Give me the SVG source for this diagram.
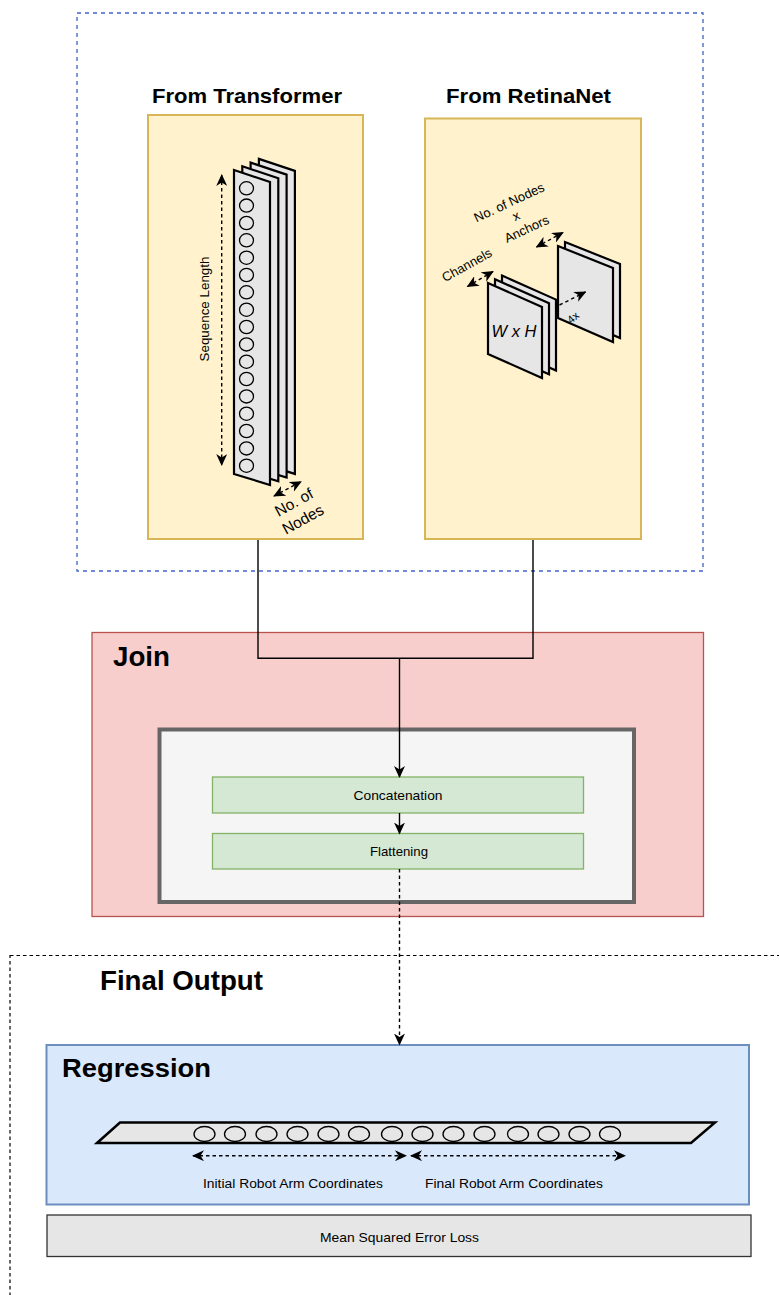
<svg xmlns="http://www.w3.org/2000/svg" width="779" height="1295" viewBox="0 0 779 1295">
<defs>
<style>
.t{font-family:"Liberation Sans",Arial,sans-serif;fill:#000}
.title{font-weight:bold}
.sheet{fill:#e6e6e6;stroke:#000;stroke-width:2.2;stroke-linejoin:miter}
.node{fill:none;stroke:#000;stroke-width:1.3}
.dash{fill:none;stroke:#000;stroke-width:1.4;stroke-dasharray:3.5 3}
.solid{fill:none;stroke:#000;stroke-width:1.4}
</style>
<marker id="ah" viewBox="0 0 12 11" refX="11" refY="5.5" markerWidth="12" markerHeight="11" markerUnits="userSpaceOnUse" orient="auto-start-reverse">
<path d="M0,0 L12,5.5 L0,11 L3.5,5.5 z" fill="#000"/>
</marker>
<polygon id="tsheet" points="234,170 270,182 270,485 234,474"/>
<polygon id="rsheet1" points="488,283 542,307 542,378 488,354"/>
<polygon id="rsheet2" points="558,246 613,268 613,342 558,318"/>
</defs>
<rect width="779" height="1295" fill="#ffffff"/>

<g id="inputs-frame">
<rect x="77" y="13" width="626" height="558" fill="none" stroke="#4062cc" stroke-width="1.3" stroke-dasharray="4 4"/>
</g>

<g id="transformer">
<rect x="148" y="115" width="215" height="424" fill="#fff2cc" stroke="#d6b656" stroke-width="2"/>
<text class="t title" x="247" y="103" font-size="20.5" text-anchor="middle" textLength="190" lengthAdjust="spacingAndGlyphs">From Transformer</text>
<use href="#tsheet" class="sheet" transform="translate(24.9,-11.1)"/>
<use href="#tsheet" class="sheet" transform="translate(16.6,-7.4)"/>
<use href="#tsheet" class="sheet" transform="translate(8.3,-3.7)"/>
<use href="#tsheet" class="sheet"/>
<g class="node">
<ellipse cx="246.5" cy="188.3" rx="7" ry="6.6"/>
<ellipse cx="246.5" cy="205.6" rx="7" ry="6.6"/>
<ellipse cx="246.5" cy="223" rx="7" ry="6.6"/>
<ellipse cx="246.5" cy="240.3" rx="7" ry="6.6"/>
<ellipse cx="246.5" cy="257.7" rx="7" ry="6.6"/>
<ellipse cx="246.5" cy="275" rx="7" ry="6.6"/>
<ellipse cx="246.5" cy="292.3" rx="7" ry="6.6"/>
<ellipse cx="246.5" cy="309.7" rx="7" ry="6.6"/>
<ellipse cx="246.5" cy="327" rx="7" ry="6.6"/>
<ellipse cx="246.5" cy="344.4" rx="7" ry="6.6"/>
<ellipse cx="246.5" cy="361.7" rx="7" ry="6.6"/>
<ellipse cx="246.5" cy="379" rx="7" ry="6.6"/>
<ellipse cx="246.5" cy="396.4" rx="7" ry="6.6"/>
<ellipse cx="246.5" cy="413.7" rx="7" ry="6.6"/>
<ellipse cx="246.5" cy="431" rx="7" ry="6.6"/>
<ellipse cx="246.5" cy="448.4" rx="7" ry="6.6"/>
<ellipse cx="246.5" cy="465.7" rx="7" ry="6.6"/>
</g>
<line class="dash" x1="221.7" y1="175" x2="221.7" y2="465" marker-start="url(#ah)" marker-end="url(#ah)"/>
<text class="t" x="0" y="0" font-size="12.5" text-anchor="middle" textLength="105" lengthAdjust="spacingAndGlyphs" transform="translate(208.5,309) rotate(-90)">Sequence Length</text>
<line class="dash" x1="274" y1="496" x2="301" y2="481.7" marker-start="url(#ah)" marker-end="url(#ah)"/>
<text class="t" font-size="15.5" text-anchor="middle" transform="translate(296.5,507) rotate(-29)">No. of</text>
<text class="t" font-size="15.5" text-anchor="middle" transform="translate(305.5,524) rotate(-29)">Nodes</text>
</g>

<g id="retinanet">
<rect x="425" y="118.5" width="216" height="420.5" fill="#fff2cc" stroke="#d6b656" stroke-width="2"/>
<text class="t title" x="528.5" y="103" font-size="20.5" text-anchor="middle" textLength="165" lengthAdjust="spacingAndGlyphs">From RetinaNet</text>
<use href="#rsheet1" class="sheet" transform="translate(14,-7.4)"/>
<use href="#rsheet1" class="sheet" transform="translate(7,-3.7)"/>
<use href="#rsheet1" class="sheet"/>
<use href="#rsheet2" class="sheet" transform="translate(7,-4)"/>
<use href="#rsheet2" class="sheet"/>
<text class="t" x="514" y="337" font-size="16.5" font-style="italic" text-anchor="middle">W x H</text>
<text class="t" font-size="11" text-anchor="middle" transform="translate(575.5,320.5) rotate(-40)">4x</text>
<line class="dash" x1="559.5" y1="305" x2="585.5" y2="292" marker-end="url(#ah)"/>
<line class="dash" x1="467.5" y1="286.5" x2="493" y2="271.5" marker-start="url(#ah)" marker-end="url(#ah)"/>
<line class="dash" x1="536.5" y1="247" x2="563" y2="232.5" marker-start="url(#ah)" marker-end="url(#ah)"/>
<text class="t" font-size="13" text-anchor="middle" transform="translate(469,269) rotate(-29)">Channels</text>
<text class="t" font-size="13" text-anchor="middle" transform="translate(511,206.5) rotate(-25)">No. of Nodes</text>
<text class="t" font-size="13" text-anchor="middle" transform="translate(518,220) rotate(-25)">x</text>
<text class="t" font-size="13" text-anchor="middle" transform="translate(528.5,233) rotate(-25)">Anchors</text>
</g>

<g id="join">
<rect x="92" y="632.5" width="611.5" height="284" fill="#f8cecc" stroke="#b85450" stroke-width="1.3"/>
<text class="t title" x="113" y="665.5" font-size="27" textLength="57" lengthAdjust="spacingAndGlyphs">Join</text>
</g>
<g id="join-inner">
<rect x="159.5" y="729.5" width="474.5" height="172.5" fill="#f5f5f5" stroke="#666666" stroke-width="4"/>
</g>
<g id="concatenation">
<rect x="212.5" y="777" width="371" height="36" fill="#d5e8d4" stroke="#82b366" stroke-width="1.3"/>
<text class="t" x="398" y="799.5" font-size="13" text-anchor="middle" textLength="89" lengthAdjust="spacingAndGlyphs">Concatenation</text>
</g>
<g id="flattening">
<rect x="212.5" y="833.5" width="371" height="35.5" fill="#d5e8d4" stroke="#82b366" stroke-width="1.3"/>
<text class="t" x="399" y="855.5" font-size="13" text-anchor="middle" textLength="58" lengthAdjust="spacingAndGlyphs">Flattening</text>
</g>

<g id="final-output">
<rect x="10" y="955.5" width="820" height="400" fill="none" stroke="#000" stroke-width="1.2" stroke-dasharray="3.5 3"/>
<text class="t title" x="100" y="990" font-size="27" textLength="163" lengthAdjust="spacingAndGlyphs">Final Output</text>
</g>

<g id="regression">
<rect x="46.5" y="1045" width="702.5" height="159.5" fill="#dae8fc" stroke="#6c8ebf" stroke-width="2"/>
<text class="t title" x="62" y="1077" font-size="26.5" textLength="149" lengthAdjust="spacingAndGlyphs">Regression</text>
<polygon points="97,1143 120,1122.5 715,1122.5 691,1143" fill="#e6e6e6" stroke="#000" stroke-width="2.5"/>
<g class="node">
<ellipse cx="204.5" cy="1134" rx="10.5" ry="7.5"/>
<ellipse cx="235" cy="1134" rx="10.5" ry="7.5"/>
<ellipse cx="266.5" cy="1134" rx="10.5" ry="7.5"/>
<ellipse cx="297.5" cy="1134" rx="10.5" ry="7.5"/>
<ellipse cx="328.5" cy="1134" rx="10.5" ry="7.5"/>
<ellipse cx="359" cy="1134" rx="10.5" ry="7.5"/>
<ellipse cx="392" cy="1134" rx="10.5" ry="7.5"/>
<ellipse cx="422.5" cy="1134" rx="10.5" ry="7.5"/>
<ellipse cx="453.5" cy="1134" rx="10.5" ry="7.5"/>
<ellipse cx="484.5" cy="1134" rx="10.5" ry="7.5"/>
<ellipse cx="518" cy="1134" rx="10.5" ry="7.5"/>
<ellipse cx="548.5" cy="1134" rx="10.5" ry="7.5"/>
<ellipse cx="579.5" cy="1134" rx="10.5" ry="7.5"/>
<ellipse cx="610" cy="1134" rx="10.5" ry="7.5"/>
</g>
<line class="dash" x1="193" y1="1155.7" x2="406" y2="1155.7" marker-start="url(#ah)" marker-end="url(#ah)"/>
<line class="dash" x1="411" y1="1155.7" x2="625" y2="1155.7" marker-start="url(#ah)" marker-end="url(#ah)"/>
<text class="t" x="293" y="1187.5" font-size="12.5" text-anchor="middle" textLength="180" lengthAdjust="spacingAndGlyphs">Initial Robot Arm Coordinates</text>
<text class="t" x="514" y="1187.5" font-size="12.5" text-anchor="middle" textLength="178" lengthAdjust="spacingAndGlyphs">Final Robot Arm Coordinates</text>
</g>

<g id="mse-loss">
<rect x="47" y="1215" width="704" height="41.5" fill="#e6e6e6" stroke="#333333" stroke-width="1.3"/>
<text class="t" x="399.5" y="1241.5" font-size="13" text-anchor="middle" textLength="159" lengthAdjust="spacingAndGlyphs">Mean Squared Error Loss</text>
</g>

<g id="connectors">
<path class="solid" d="M258,540 V658.3 H399.5"/>
<path class="solid" d="M533,540 V658.3 H399.5"/>
<line class="solid" x1="399.5" y1="658.3" x2="399.5" y2="777" marker-end="url(#ah)"/>
<line class="solid" x1="399.5" y1="813" x2="399.5" y2="833.5" marker-end="url(#ah)"/>
<line class="dash" x1="399.5" y1="869" x2="399.5" y2="1044.5" marker-end="url(#ah)"/>
</g>
</svg>
